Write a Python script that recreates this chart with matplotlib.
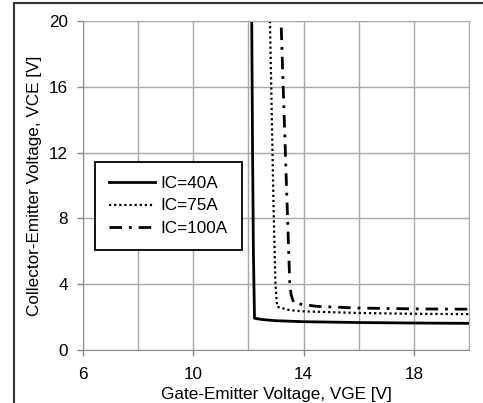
import matplotlib
matplotlib.use("Agg")
import matplotlib.pyplot as plt
from matplotlib.lines import Line2D
import numpy as np

plt.rcParams['font.family'] = ['Liberation Sans', 'DejaVu Sans']

# curves (VGE [V], VCE [V])
vge_40 = [12.12, 12.15, 12.18, 12.22, 12.5, 13.0, 14.0, 16.0, 18.0, 20.0]
vce_40 = [20.0, 12.0, 6.0, 1.93, 1.85, 1.78, 1.72, 1.67, 1.64, 1.62]

vge_75 = [12.78, 12.85, 12.92, 12.98, 13.04, 13.5, 14.0, 16.0, 18.0, 20.0]
vce_75 = [20.0, 14.0, 8.0, 4.0, 2.63, 2.42, 2.35, 2.25, 2.2, 2.18]

vge_100 = [13.19, 13.3, 13.42, 13.5, 13.55, 13.65, 14.5, 16.0, 18.0, 20.0]
vce_100 = [19.6, 14.0, 8.0, 4.0, 3.35, 2.84, 2.65, 2.55, 2.5, 2.48]

labels = ['IC=40A', 'IC=75A', 'IC=100A']
x_ticks = [6, 10, 14, 18]
y_ticks = [0, 4, 8, 12, 16, 20]

fs = 12.3

fig = plt.figure(figsize=(4.83, 4.03), dpi=100)
ax = fig.add_axes([83 / 483, 1 - 350 / 403, 386 / 483, 329 / 403])

ax.plot(vge_40, vce_40, color='black', lw=2.0, ls='-', label=labels[0])
ax.plot(vge_75, vce_75, color='black', lw=1.6, ls=(0, (1, 1.3)), label=labels[1])
ax.plot(vge_100, vce_100, color='black', lw=2.0, ls=(0, (4.5, 2.5, 1, 2.5)), label=labels[2])

ax.set_xlim(6, 20)
ax.set_ylim(0, 20)
ax.set_xticks(x_ticks)
ax.set_xticks(np.arange(6, 21, 2), minor=True)
ax.set_yticks(y_ticks)
ax.tick_params(axis='both', which='major', labelsize=fs, length=4, width=1,
               color='#888888', direction='out')
ax.tick_params(axis='y', which='major', pad=7)
ax.tick_params(axis='x', which='major', pad=8)
ax.tick_params(axis='x', which='minor', length=0)
ax.grid(True, which='both', color='#a8a8a8', lw=1)
ax.set_axisbelow(True)
for s in ax.spines.values():
    s.set_color('#a8a8a8')
ax.spines['left'].set_color('#888888')
ax.spines['bottom'].set_color('#888888')

ax.set_xlabel('Gate-Emitter Voltage, VGE [V]', fontsize=fs, labelpad=4)
ax.set_ylabel('Collector-Emitter Voltage, VCE [V]', fontsize=fs, labelpad=5)

leg = ax.legend(loc='upper left', bbox_to_anchor=(0.031, 0.571), borderaxespad=0,
                fontsize=fs, handlelength=2.7, handletextpad=0.35, fancybox=False,
                framealpha=1, edgecolor='black', borderpad=0.8, labelspacing=0.45)
leg.get_frame().set_linewidth(1.3)

# outer frame of the original figure (only top and left visible)
fig.add_artist(Line2D([14 / 483, 14 / 483], [0, 1 - 3 / 403], color='#333333', lw=1.5))
fig.add_artist(Line2D([14 / 483, 1], [1 - 3 / 403, 1 - 3 / 403], color='#333333', lw=1.5))

fig.savefig('out.png', dpi=100)
